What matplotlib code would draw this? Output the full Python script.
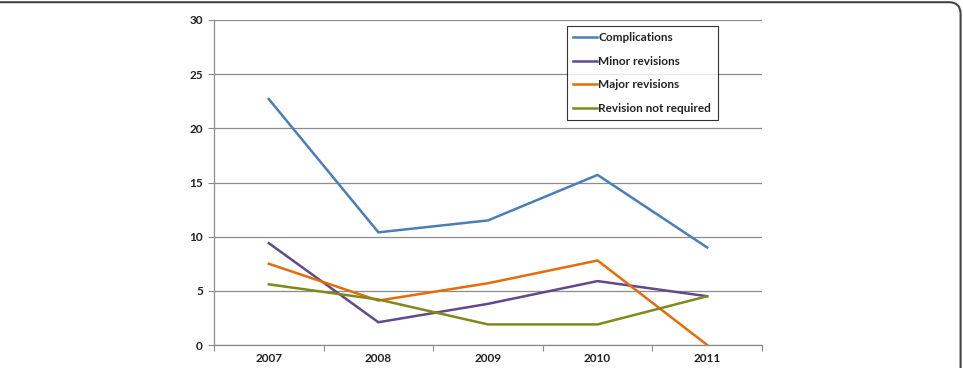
import matplotlib
matplotlib.use("Agg")
import matplotlib.pyplot as plt
from matplotlib.patches import FancyBboxPatch

years = ["2007", "2008", "2009", "2010", "2011"]
complications = [22.7, 10.4, 11.5, 15.7, 9.0]
minor_revisions = [9.4, 2.1, 3.8, 5.9, 4.5]
major_revisions = [7.5, 4.1, 5.7, 7.8, 0.0]
revision_not_required = [5.6, 4.2, 1.9, 1.9, 4.5]

series = [
    ("Complications", complications, "#4A7EBB"),
    ("Minor revisions", minor_revisions, "#5F4B8B"),
    ("Major revisions", major_revisions, "#E46C0A"),
    ("Revision not required", revision_not_required, "#7F8A1B"),
]

plt.rcParams['font.family'] = ['Lato', 'DejaVu Sans']

fig = plt.figure(figsize=(9.63, 3.68), dpi=100)
ax = fig.add_axes([214/963, 1-345/368, 548/963, 325/368])

x = list(range(len(years)))
for name, vals, col in series:
    ax.plot(x, vals, color=col, lw=1.8, label=name, solid_joinstyle='miter')

ax.set_xlim(-0.5, len(years)-0.5)
ax.set_ylim(0, 30)
ax.set_yticks([0, 5, 10, 15, 20, 25, 30])
ax.yaxis.grid(True, color="#8C8C8C", lw=0.9)
ax.set_axisbelow(True)

ax.set_xticks([i - 0.5 for i in range(len(years)+1)])
ax.set_xticklabels([])
ax.set_xticks(x, minor=True)
ax.set_xticklabels(years, minor=True, fontsize=8.5, fontweight='bold', color="#222222")
ax.tick_params(axis='x', which='major', length=4, color="#8C8C8C", direction='out')
ax.tick_params(axis='x', which='minor', length=0, pad=6)
ax.tick_params(axis='y', length=4, color="#8C8C8C", labelsize=8.5, pad=4, labelcolor="#222222")
for lab in ax.get_yticklabels():
    lab.set_fontweight('bold')

for s in ['top', 'right']:
    ax.spines[s].set_visible(False)
for s in ['left', 'bottom']:
    ax.spines[s].set_color("#8C8C8C")
    ax.spines[s].set_linewidth(0.9)

leg = ax.legend(loc='upper left', bbox_to_anchor=((567-214)/548, (345-26)/325),
                frameon=True, fancybox=False, edgecolor='black', fontsize=8.5,
                handlelength=2.0, handletextpad=0.1, labelspacing=1.05,
                borderpad=0.55, borderaxespad=0)
leg.get_frame().set_linewidth(0.8)
for t in leg.get_texts():
    t.set_fontweight('bold')
    t.set_color("#222222")

frame = FancyBboxPatch((-0.02, -0.5), 0.02 + 0.9975, 1.494,
                       boxstyle="round,pad=0,rounding_size=0.012",
                       transform=fig.transFigure, fill=False,
                       edgecolor="#444444", lw=1.5, clip_on=False,
                       mutation_aspect=963/368)
fig.patches.append(frame)

fig.savefig("out.png", dpi=100)
